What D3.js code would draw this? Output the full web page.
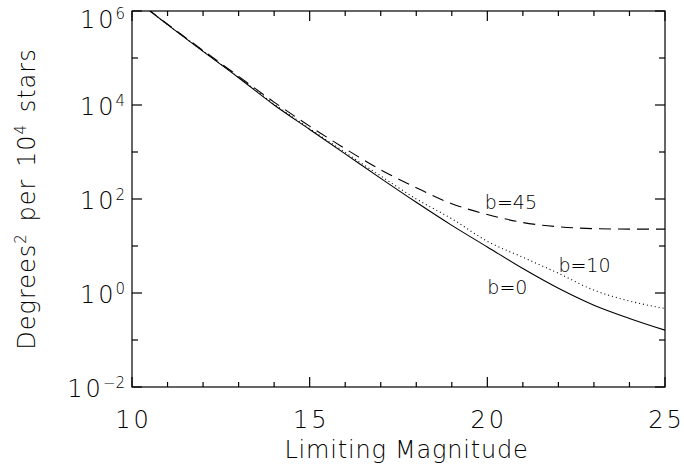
<!DOCTYPE html>
<html>
<head>
<meta charset="utf-8">
<script src="https://cdn.jsdelivr.net/npm/d3@7"></script>
<style>
  body { margin: 0; background: #fff; }
  text { font-family: "DejaVu Sans", sans-serif; font-weight: 200; fill: #000; }
</style>
</head>
<body>
<svg id="chart" width="684" height="468"></svg>
<script>
// Limiting magnitude grid
const magnitudes = [10, 11, 12, 13, 14, 15, 16, 17, 18, 19, 20, 21, 22, 23, 24, 25];
// Sky area (deg^2) containing 10^4 stars, by galactic latitude
const areaB0  = [2.0e6, 5.13e5, 1.38e5, 3.80e4, 1.0e4, 3020, 912, 275, 85.1, 27.5, 9.55, 3.31, 1.26, 0.550, 0.288, 0.162];
const areaB10 = [2.0e6, 5.13e5, 1.41e5, 3.89e4, 1.05e4, 3160, 977, 309, 100, 38.0, 12.6, 5.75, 2.63, 1.15, 0.676, 0.468];
const areaB45 = [2.0e6, 5.25e5, 1.45e5, 4.07e4, 1.15e4, 3550, 1175, 417, 174, 79.4, 46.8, 31.6, 25.7, 23.4, 22.9, 22.9];
const seriesNames = ["b=0", "b=10", "b=45"];
const xTickValues = [10, 15, 20, 25];
const yTickExponents = [-2, 0, 2, 4, 6];

const svg = d3.select("#chart");
const plotLeft = 132, plotRight = 665, plotTop = 11, plotBottom = 387;

const x = d3.scaleLinear().domain([10, 25]).range([plotLeft, plotRight]);
const y = d3.scaleLog().domain([1e-2, 1e6]).range([plotBottom, plotTop]);

svg.append("defs").append("clipPath").attr("id", "plotClip")
  .append("rect").attr("x", plotLeft).attr("y", plotTop)
  .attr("width", plotRight - plotLeft).attr("height", plotBottom - plotTop);

// Curves
const line = d3.line()
  .x(d => x(d[0]))
  .y(d => y(d[1]))
  .curve(d3.curveMonotoneX);

const series = [
  { name: seriesNames[0], values: areaB0,  dash: null },
  { name: seriesNames[1], values: areaB10, dash: "1,3" },
  { name: seriesNames[2], values: areaB45, dash: "12,7" }
];

const curves = svg.append("g").attr("clip-path", "url(#plotClip)");
series.forEach(s => {
  curves.append("path")
    .datum(magnitudes.map((m, i) => [m, s.values[i]]))
    .attr("d", line)
    .attr("fill", "none")
    .attr("stroke", "#000")
    .attr("stroke-width", 1.1)
    .attr("stroke-dasharray", s.dash);
});

// Frame with inward ticks on all four sides
const frame = svg.append("g").attr("stroke", "#000").attr("stroke-width", 1.2);
frame.append("rect").attr("x", plotLeft).attr("y", plotTop)
  .attr("width", plotRight - plotLeft).attr("height", plotBottom - plotTop).attr("fill", "none");

const xMinor = d3.range(10, 26, 1);
xMinor.forEach(m => {
  const len = xTickValues.includes(m) ? 10 : 5;
  frame.append("line").attr("x1", x(m)).attr("x2", x(m)).attr("y1", plotBottom).attr("y2", plotBottom - len);
  frame.append("line").attr("x1", x(m)).attr("x2", x(m)).attr("y1", plotTop).attr("y2", plotTop + len);
});

const yAllExp = d3.range(-2, 7, 1);
yAllExp.forEach(e => {
  const len = yTickExponents.includes(e) ? 10 : 6;
  const yy = y(Math.pow(10, e));
  frame.append("line").attr("x1", plotLeft).attr("x2", plotLeft + len).attr("y1", yy).attr("y2", yy);
  frame.append("line").attr("x1", plotRight).attr("x2", plotRight - len).attr("y1", yy).attr("y2", yy);
});

// X tick labels
svg.append("g").selectAll("text").data(xTickValues).join("text")
  .attr("x", d => x(d) + 1.5).attr("y", plotBottom + 41)
  .attr("text-anchor", "middle").attr("font-size", 24)
  .attr("letter-spacing", 3)
  .text(d => d);

// Y tick labels as 10 with superscript exponent (kept inside the canvas at the top)
const yLab = svg.append("g").selectAll("text").data(yTickExponents).join("text")
  .attr("x", plotLeft - 7).attr("y", d => Math.max(y(Math.pow(10, d)) + 10, 28))
  .attr("text-anchor", "end").attr("font-size", 24);
yLab.append("tspan").attr("letter-spacing", 3).text("10");
yLab.append("tspan").attr("dx", -1).attr("dy", -9).attr("font-size", 15)
  .text(d => d < 0 ? "\u2212" + Math.abs(d) : d);

// Axis titles
svg.append("text")
  .attr("x", (plotLeft + plotRight) / 2 + 8).attr("y", 458)
  .attr("text-anchor", "middle").attr("font-size", 24)
  .attr("letter-spacing", 0.8)
  .text("Limiting Magnitude");

const yTitle = svg.append("text")
  .attr("transform", "translate(35," + ((plotTop + plotBottom) / 2) + ") rotate(-90)")
  .attr("text-anchor", "middle").attr("font-size", 24)
  .attr("letter-spacing", 1).attr("word-spacing", 3);
yTitle.append("tspan").text("Degrees");
yTitle.append("tspan").attr("dy", -9).attr("font-size", 15).text("2");
yTitle.append("tspan").attr("dy", 9).text(" per 10");
yTitle.append("tspan").attr("dy", -9).attr("font-size", 15).text("4");
yTitle.append("tspan").attr("dy", 9).text(" stars");

// Series labels
const labelSpots = [
  { name: seriesNames[0], m: 20.0, v: 0.955 },
  { name: seriesNames[1], m: 22.0, v: 2.84 },
  { name: seriesNames[2], m: 19.93, v: 61.7 }
];
svg.append("g").selectAll("text").data(labelSpots).join("text")
  .attr("x", d => x(d.m)).attr("y", d => y(d.v))
  .attr("font-size", 19)
  .text(d => d.name);
</script>
</body>
</html>
